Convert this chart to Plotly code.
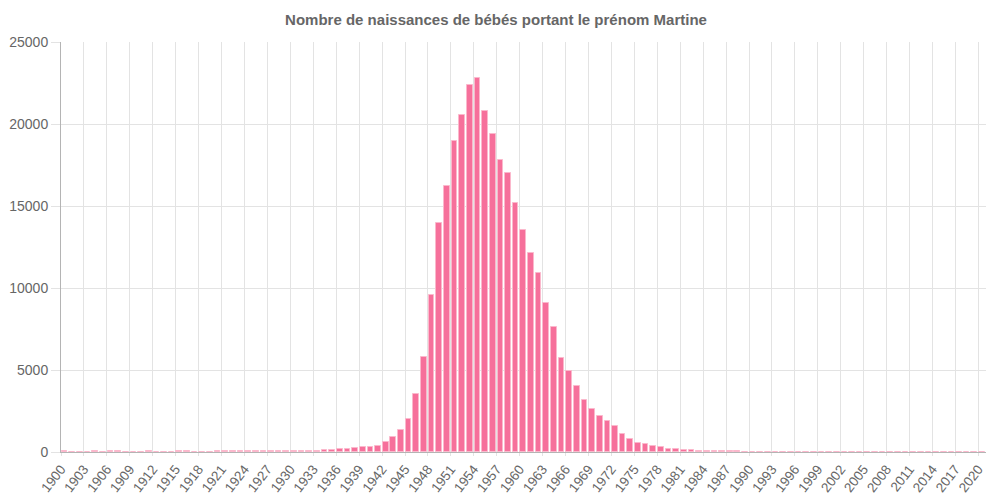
import plotly.graph_objects as go

title_text = "Nombre de naissances de bébés portant le prénom Martine"

years = list(range(1900, 2021))
births = [
    35, 30, 28, 30, 32, 30, 35, 32, 28, 30,            # 1900-1909
    30, 32, 30, 28, 30, 55, 35, 25, 28, 30,            # 1910-1919
    35, 40, 40, 42, 45, 45, 48, 50, 52, 55,            # 1920-1929
    60, 65, 70, 80, 100, 120, 170, 210, 230, 290,      # 1930-1939
    300, 350, 590, 900, 1330, 2000, 3520, 5800, 9600, 13950,   # 1940-1949
    16250, 18980, 20570, 22380, 22790, 20810, 19410, 17820, 17040, 15170,  # 1950-1959
    13540, 12130, 10890, 9060, 7650, 5760, 4920, 4000, 3150, 2640,  # 1960-1969
    2170, 1870, 1580, 1090, 810, 570, 490, 370, 280, 190,  # 1970-1979
    180, 120, 110, 65, 65, 80, 45, 45, 35, 30,          # 1980-1989
    30, 30, 25, 25, 22, 20, 20, 18, 15, 12,            # 1990-1999
    10, 8, 6, 5, 4, 3, 3, 2, 2, 1,                     # 2000-2009
    1, 1, 0, 0, 0, 0, 0, 0, 0, 0, 0,                   # 2010-2020
]

font_family = "Liberation Sans, Arial, Helvetica, sans-serif"
grey = "#666666"

fig = go.Figure()
fig.add_trace(go.Bar(
    x=years,
    y=births,
    offset=0.1,
    width=0.74,
    marker=dict(color="#F6709B", line=dict(color="#FBB8CC", width=1)),
    hoverinfo="x+y",
))

fig.update_layout(
    width=992,
    height=496,
    margin=dict(l=61, r=6, t=42, b=44, autoexpand=False),
    paper_bgcolor="white",
    plot_bgcolor="white",
    showlegend=False,
    bargap=0,
    title=dict(
        text="<b>" + title_text + "</b>",
        x=0.5,
        xanchor="center",
        y=0.96,
        yanchor="middle",
        font=dict(family=font_family, size=15, color=grey),
    ),
    xaxis=dict(
        range=[1900, 2021],
        tickmode="linear",
        tick0=1900,
        dtick=3,
        tickangle=-52,
        ticks="outside",
        ticklen=3,
        tickcolor="#e3e3e3",
        showgrid=True,
        gridcolor="#e3e3e3",
        gridwidth=1,
        showline=True,
        linecolor="#b4b4b4",
        linewidth=1,
        zeroline=False,
        automargin=False,
        tickfont=dict(family=font_family, size=13.5, color=grey),
        fixedrange=True,
    ),
    yaxis=dict(
        range=[0, 25000],
        tickmode="linear",
        tick0=0,
        dtick=5000,
        tickformat="d",
        ticks="outside",
        ticklen=9,
        tickcolor="#e3e3e3",
        showgrid=True,
        gridcolor="#e3e3e3",
        gridwidth=1,
        showline=True,
        linecolor="#b4b4b4",
        linewidth=1,
        zeroline=False,
        automargin=False,
        tickfont=dict(family=font_family, size=14, color=grey),
        fixedrange=True,
    ),
)

fig.write_html("out.html")
